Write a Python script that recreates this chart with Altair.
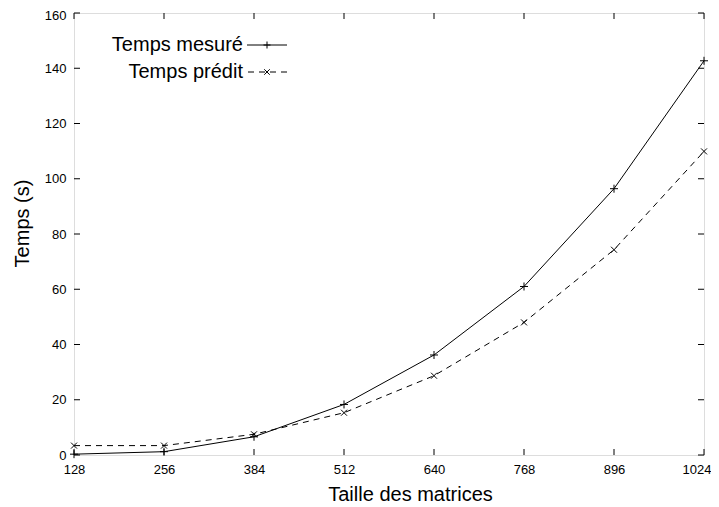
import altair as alt
import pandas as pd

sizes = [128, 256, 384, 512, 640, 768, 896, 1024]
mesure = [0.3, 1.2, 6.6, 18.3, 36.2, 61.0, 96.4, 142.7]
predit = [3.4, 3.4, 7.5, 15.3, 28.7, 48.0, 74.3, 109.9]
x_ticks = [128, 256, 384, 512, 640, 768, 896, 1024]
y_ticks = [0, 20, 40, 60, 80, 100, 120, 140, 160]
series_names = ["Temps mesuré", "Temps prédit"]

FONT = "Liberation Sans"
W, H = 630, 442
BIG = 20

df = pd.DataFrame({
    "x": sizes * 2,
    "y": mesure + predit,
    "s": [series_names[0]] * len(sizes) + [series_names[1]] * len(sizes),
})
dm = df[df.s == series_names[0]]
dp = df[df.s == series_names[1]]

xs = alt.Scale(domain=[128, 1024], nice=False, zero=False)
ys = alt.Scale(domain=[0, 160], nice=False)

xax = alt.Axis(values=x_ticks, format="d", domain=False, ticks=False, grid=False, labelFont=FONT,
               labelFontSize=13, labelColor="black", labelPadding=8, labelFlush=False,
               labelAlign={"condition": {"test": "datum.value == 1024", "value": "right"}, "value": "center"},
               labelOffset={"condition": {"test": "datum.value == 1024", "value": 7}, "value": 0},
               title="Taille des matrices", titleFont=FONT, titleFontSize=BIG,
               titleFontWeight="normal", titleColor="black",
               titleX=336, titleY=45, titleBaseline="alphabetic", titleAlign="center",
               titleAnchor="start")
yax = alt.Axis(values=y_ticks, format="d", domain=False, ticks=False, grid=False, labelFont=FONT,
               labelFontSize=13, labelColor="black", labelPadding=8, labelFlush=False,
               labelOffset={"condition": {"test": "datum.value == 160", "value": 2}, "value": 0},
               title="Temps (s)",
               titleFont=FONT, titleFontSize=BIG, titleFontWeight="normal", titleColor="black",
               titleX=-46, titleY=210, titleBaseline="alphabetic", titleAlign="center",
               titleAngle=270, titleAnchor="start")

line_m = alt.Chart(dm).mark_line(color="black", strokeWidth=1).encode(
    x=alt.X("x:Q", scale=xs, axis=xax), y=alt.Y("y:Q", scale=ys, axis=yax))
line_p = alt.Chart(dp).mark_line(color="black", strokeWidth=1, strokeDash=[6, 5]).encode(
    x=alt.X("x:Q", scale=xs), y=alt.Y("y:Q", scale=ys))

PLUS = "M-1,0H1M0,-1V1"
CROSS = "M-1,-1L1,1M-1,1L1,-1"
pts_m = alt.Chart(dm).mark_point(shape=PLUS, size=64, filled=False, color="black",
                                 strokeWidth=1, opacity=1).encode(
    x=alt.X("x:Q", scale=xs), y=alt.Y("y:Q", scale=ys))
pts_p = alt.Chart(dp).mark_point(shape=CROSS, size=36, filled=False, color="black",
                                 strokeWidth=1, opacity=1).encode(
    x=alt.X("x:Q", scale=xs), y=alt.Y("y:Q", scale=ys))

# manual legend (label left of the line sample, gnuplot style)
leg_df = pd.DataFrame({"s": series_names})
LEG_Y = [32, 59]
LEG_TX = 169
LEG_X1, LEG_X2 = 173, 213
LEG_MX = 193
leg_text_m = alt.Chart(leg_df[leg_df.s == series_names[0]]).mark_text(
    align="right", baseline="middle", font=FONT, fontSize=BIG, color="black").encode(
    text="s:N", x=alt.value(LEG_TX), y=alt.value(LEG_Y[0]))
leg_text_p = alt.Chart(leg_df[leg_df.s == series_names[1]]).mark_text(
    align="right", baseline="middle", font=FONT, fontSize=BIG, color="black").encode(
    text="s:N", x=alt.value(LEG_TX), y=alt.value(LEG_Y[1]))
leg_line_m = alt.Chart(leg_df[leg_df.s == series_names[0]]).mark_rule(
    color="black", strokeWidth=1).encode(
    x=alt.value(LEG_X1), x2=alt.value(LEG_X2), y=alt.value(LEG_Y[0]))
leg_line_p = alt.Chart(leg_df[leg_df.s == series_names[1]]).mark_rule(
    color="black", strokeWidth=1, strokeDash=[6, 5]).encode(
    x=alt.value(LEG_X1 + 1), x2=alt.value(LEG_X2), y=alt.value(LEG_Y[1]))
leg_pt_m = alt.Chart(leg_df[leg_df.s == series_names[0]]).mark_point(
    shape=PLUS, size=49, filled=False, color="black", strokeWidth=1, opacity=1).encode(
    x=alt.value(LEG_MX), y=alt.value(LEG_Y[0]))
leg_pt_p = alt.Chart(leg_df[leg_df.s == series_names[1]]).mark_point(
    shape=CROSS, size=30, filled=False, color="black", strokeWidth=1, opacity=1).encode(
    x=alt.value(LEG_MX), y=alt.value(LEG_Y[1]))

# inside ticks (mirrored)
tx = pd.DataFrame({"t": x_ticks})
ty = pd.DataFrame({"t": y_ticks})
tick_len_y = 6 * 160 / H
tick_len_x = 6 * 896 / W
tb = alt.Chart(tx).mark_rule(color="black", strokeWidth=1).encode(
    x=alt.X("t:Q", scale=xs), y=alt.datum(0, scale=ys), y2=alt.datum(tick_len_y))
tt = alt.Chart(tx).mark_rule(color="black", strokeWidth=1).encode(
    x=alt.X("t:Q", scale=xs), y=alt.datum(160, scale=ys), y2=alt.datum(160 - tick_len_y))
tl = alt.Chart(ty).mark_rule(color="black", strokeWidth=1).encode(
    y=alt.Y("t:Q", scale=ys), x=alt.datum(128, scale=xs), x2=alt.datum(128 + tick_len_x))
tr = alt.Chart(ty).mark_rule(color="black", strokeWidth=1).encode(
    y=alt.Y("t:Q", scale=ys), x=alt.datum(1024, scale=xs), x2=alt.datum(1024 - tick_len_x))

chart = alt.layer(tb, tt, tl, tr, line_m, line_p, pts_m, pts_p,
                  leg_text_m, leg_text_p, leg_line_m, leg_line_p, leg_pt_m, leg_pt_p).properties(
    width=W, height=H,
    autosize=alt.AutoSizeParams(type="none"),
    padding={"left": 66, "top": 5, "right": 7, "bottom": 50},
).configure_view(stroke="black", strokeWidth=1.5).configure(background="white")

chart.save("out.html", embed_options={"renderer": "svg", "actions": False})
